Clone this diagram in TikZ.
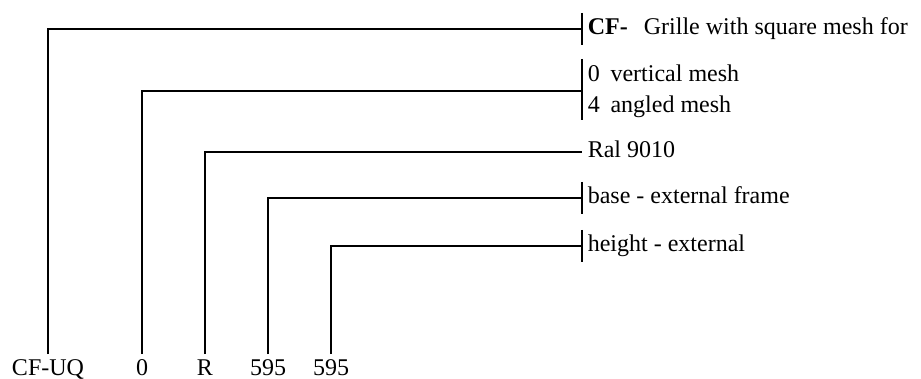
\documentclass[tikz,border=0pt]{standalone}
\usepackage{fontspec}
\setmainfont{Liberation Serif}
\usetikzlibrary{positioning}

\begin{document}
\begin{tikzpicture}[x=1pt,y=-1pt,line width=1.6pt,
		txt/.style={font=\fontsize{24}{31}\selectfont},
		code/.style={txt,anchor=base,inner xsep=0pt,inner ysep=3pt,text height=17pt},
		desc/.style={txt,anchor=west,inner xsep=5pt,inner ysep=0pt,text height=17pt,text depth=5pt}]
		\useasboundingbox (0,0) rectangle (921,379);
		% code letters
		\node[code] (lcode) at (48,375) {CF-UQ};
		\node[code] (lmesh) at (142,375) {0};
		\node[code] (lral) at (205,375) {R};
		\node[code] (lbase) at (268,375) {595};
		\node[code] (lheight) at (331,375) {595};
		% meanings
		\node[desc] (dcode) at (582,29) {\textbf{CF-}\hspace{0.67em}Grille with square mesh for};
		\node[txt,anchor=west,inner xsep=5pt,inner ysep=0pt,align=left] (dmesh) at (582,91) {0\hspace{0.45em}vertical mesh\\4\hspace{0.45em}angled mesh};
		\node[desc] (dral) at (582,152) {Ral 9010};
		\node[desc] (dbase) at (582,198) {base - external frame};
		\node[desc] (dheight) at (582,246) {height - external};
		% leaders
		\draw (lcode.north) |- (dcode.west);
		\draw (lmesh.north) |- (dmesh.west);
		\draw (lral.north) |- (dral.west);
		\draw (lbase.north) |- (dbase.west);
		\draw (lheight.north) |- (dheight.west);
		% ticks
		\draw ([yshift=16pt]dcode.west) -- ([yshift=-16pt]dcode.west);
		\draw ([yshift=32pt]dmesh.west) -- ([yshift=-29pt]dmesh.west);
		\draw ([yshift=16pt]dbase.west) -- ([yshift=-16pt]dbase.west);
		\draw ([yshift=16pt]dheight.west) -- ([yshift=-16pt]dheight.west);
	\end{tikzpicture}
\end{document}
